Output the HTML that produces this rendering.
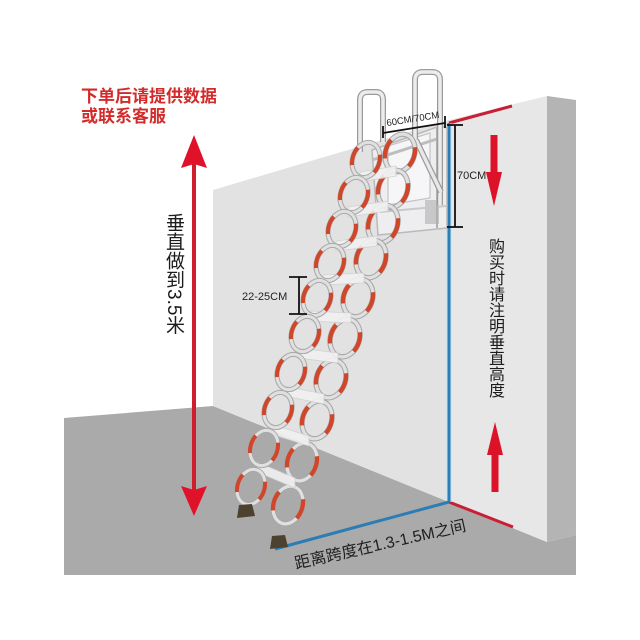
<!DOCTYPE html>
<html>
<head>
<meta charset="utf-8">
<style>
  html,body{margin:0;padding:0;background:#fff;}
  #wrap{position:relative;width:640px;height:640px;overflow:hidden;background:#fff;
    font-family:"Liberation Sans","Noto Sans CJK SC",sans-serif;}
  svg{position:absolute;left:0;top:0;}
  .vt{position:absolute;writing-mode:vertical-rl;color:#1c1c1c;white-space:nowrap;}
  .red{position:absolute;left:81px;top:87px;color:#d42a2a;font-weight:bold;font-size:17px;line-height:20px;white-space:nowrap;}
</style>
</head>
<body>
<div id="wrap">
<svg width="640" height="640" viewBox="0 0 640 640" xmlns="http://www.w3.org/2000/svg">
  <defs>
    <g id="lp">
      <ellipse rx="13.5" ry="18" fill="none" stroke="#a8a8a8" stroke-width="5"/>
      <ellipse rx="13.5" ry="18" fill="none" stroke="#e0e0e0" stroke-width="3"/>
      <ellipse rx="13.5" ry="18" fill="none" stroke="#d0462a" stroke-width="4" pathLength="100" stroke-dasharray="19 31" stroke-dashoffset="9.5"/>
    </g>
  </defs>

  <!-- floor -->
  <polygon points="64,418 213,406 449,502 547,542 576,535 576,575 64,575" fill="#aaaaaa"/>
  <!-- front wall -->
  <polygon points="213,190 449,120 449,502 213,406" fill="#e2e2e2"/>
  <!-- side wall -->
  <polygon points="449,120 547,96 547,542 449,502" fill="#e7e7e7"/>
  <polygon points="547,96 576,100 576,535 547,542" fill="#b4b4b4"/>

  <!-- red edge lines -->
  <line x1="449" y1="123" x2="512" y2="106" stroke="#c81f35" stroke-width="3"/>
  <line x1="449" y1="502" x2="513" y2="527" stroke="#c81f35" stroke-width="3"/>

  <!-- blue lines -->
  <line x1="449" y1="123" x2="449" y2="502" stroke="#bfe4f4" stroke-width="5"/>
  <line x1="449" y1="123" x2="449" y2="502" stroke="#2c7db4" stroke-width="3"/>
  <line x1="449" y1="502" x2="275" y2="549" stroke="#2c7db4" stroke-width="3"/>

  <!-- mount box -->
  <polygon points="372,150 440,126 447,128 447,228 378,235" fill="#eeeef0" stroke="#b9b9b9" stroke-width="1.5"/>
  <polygon points="388,146 430,133 430,198 388,205" fill="#f6f6f8" stroke="#c4c4c4" stroke-width="1.2"/>
  <line x1="372" y1="160" x2="440" y2="138" stroke="#bdbdbd" stroke-width="3"/>
  <line x1="380" y1="212" x2="446" y2="206" stroke="#c9c9c9" stroke-width="2"/>
  <rect x="425" y="200" width="14" height="24" fill="#c8c8c8"/>
  <line x1="437" y1="128" x2="437" y2="228" stroke="#b0b0b0" stroke-width="2"/>

  <!-- handrails -->
  <path d="M360,152 L360,100 Q360,92 368,92 L376,92 Q383,92 383,100 L383,142" fill="none" stroke="#9a9a9a" stroke-width="6"/>
  <path d="M360,152 L360,100 Q360,92 368,92 L376,92 Q383,92 383,100 L383,142" fill="none" stroke="#ececec" stroke-width="3.5"/>
  <path d="M415,146 L415,80 Q415,72 423,72 L432,72 Q440,72 440,80 L440,205" fill="none" stroke="#9a9a9a" stroke-width="6"/>
  <path d="M415,146 L415,80 Q415,72 423,72 L432,72 Q440,72 440,80 L440,205" fill="none" stroke="#ececec" stroke-width="3.5"/>
  <path d="M416,140 L441,192" stroke="#9a9a9a" stroke-width="6"/>
  <path d="M416,140 L441,192" stroke="#e8e8e8" stroke-width="3.5"/>

  <!-- 60CM/70CM dimension -->
  <line x1="383" y1="133" x2="445" y2="123" stroke="#111" stroke-width="1.8"/>
  <line x1="383" y1="126" x2="383" y2="138" stroke="#111" stroke-width="1.8"/>
  <line x1="445" y1="116" x2="445" y2="128" stroke="#111" stroke-width="1.8"/>
  <text x="413" y="122" font-size="9.5" text-anchor="middle" fill="#222" transform="rotate(-9 413 120)" font-family="Liberation Sans, sans-serif">60CM/70CM</text>

  <!-- 70CM dimension -->
  <line x1="455" y1="125" x2="455" y2="227" stroke="#111" stroke-width="1.8"/>
  <line x1="447" y1="125" x2="463" y2="125" stroke="#111" stroke-width="1.8"/>
  <line x1="447" y1="227" x2="463" y2="227" stroke="#111" stroke-width="1.8"/>
  <text x="457" y="179" font-size="11" fill="#222" font-family="Liberation Sans, sans-serif">70CM</text>

  <!-- right rail -->
  <use href="#lp" transform="translate(400,153) rotate(19) scale(1.07)"/>
  <use href="#lp" transform="translate(393,189) rotate(19) scale(1.07)"/>
  <use href="#lp" transform="translate(383,224) rotate(19) scale(1.07)"/>
  <use href="#lp" transform="translate(371,259) rotate(19) scale(1.07)"/>
  <use href="#lp" transform="translate(358,298) rotate(19) scale(1.07)"/>
  <use href="#lp" transform="translate(345,338) rotate(19) scale(1.07)"/>
  <use href="#lp" transform="translate(331,379) rotate(19) scale(1.07)"/>
  <use href="#lp" transform="translate(317,420) rotate(19) scale(1.07)"/>
  <use href="#lp" transform="translate(302,462) rotate(19) scale(1.07)"/>
  <use href="#lp" transform="translate(288,505) rotate(19) scale(1.07)"/>

  <!-- treads -->
  <g fill="#f1f1f1" stroke="#d0d0d0" stroke-width="0.8" opacity="0.9">
    <polygon points="360,172 396,166 396,176 360,182"/>
    <polygon points="348,207 388,201 388,211 348,217"/>
    <polygon points="336,241 377,236 377,246 336,251"/>
    <polygon points="323,275 364,273 364,283 323,285"/>
    <polygon points="311,311 351,313 351,323 311,321"/>
    <polygon points="298,348 338,353 338,363 298,358"/>
    <polygon points="284,386 324,394 324,404 284,396"/>
    <polygon points="271,424 309,436 309,446 271,434"/>
    <polygon points="257,462 295,478 295,488 257,472"/>
  </g>

  <!-- left rail -->
  <use href="#lp" transform="translate(366,160) rotate(19)"/>
  <use href="#lp" transform="translate(354,195) rotate(19)"/>
  <use href="#lp" transform="translate(342,229) rotate(19)"/>
  <use href="#lp" transform="translate(330,263) rotate(19)"/>
  <use href="#lp" transform="translate(317,298) rotate(19)"/>
  <use href="#lp" transform="translate(305,334) rotate(19)"/>
  <use href="#lp" transform="translate(291,372) rotate(19)"/>
  <use href="#lp" transform="translate(278,410) rotate(19)"/>
  <use href="#lp" transform="translate(264,448) rotate(19)"/>
  <use href="#lp" transform="translate(251,487) rotate(19)"/>

  <!-- feet -->
  <polygon points="239,505 252,504 255,516 237,518" fill="#4d4230"/>
  <polygon points="272,536 285,535 288,547 270,549" fill="#4d4230"/>

  <!-- 22-25CM dimension -->
  <line x1="299" y1="277" x2="299" y2="314" stroke="#111" stroke-width="1.8"/>
  <line x1="289" y1="277" x2="307" y2="277" stroke="#111" stroke-width="1.8"/>
  <line x1="289" y1="314" x2="307" y2="314" stroke="#111" stroke-width="1.8"/>
  <text x="242" y="300" font-size="11" fill="#222" font-family="Liberation Sans, sans-serif">22-25CM</text>

  <!-- big left arrow -->
  <line x1="194" y1="160" x2="194" y2="492" stroke="#cf1f2c" stroke-width="4"/>
  <polygon points="194,135 207,168 194,164 181,168" fill="#e0122a"/>
  <polygon points="194,516 207,486 194,490 181,486" fill="#e0122a"/>

  <!-- right arrows -->
  <rect x="490.5" y="135" width="7" height="40" fill="#dc1228"/>
  <polygon points="486,172 502,172 494,206" fill="#dc1228"/>
  <rect x="491.5" y="452" width="7" height="40" fill="#dc1228"/>
  <polygon points="487,455 503,455 495,422" fill="#dc1228"/>

  <!-- bottom rotated text -->
  <text x="296" y="569" font-size="16" fill="#1f1f1f" transform="rotate(-12.7 296 569)" font-family="Liberation Sans, Noto Sans CJK SC, sans-serif">距离跨度在1.3-1.5M之间</text>
</svg>

<div class="red">下单后请提供数据<br>或联系客服</div>
<div class="vt" style="left:163px;top:213px;font-size:19px;line-height:20px;">垂直做到3.5米</div>
<div class="vt" style="left:486px;top:238px;font-size:16px;line-height:16px;">购买时请注明垂直高度</div>
</div>
</body>
</html>
